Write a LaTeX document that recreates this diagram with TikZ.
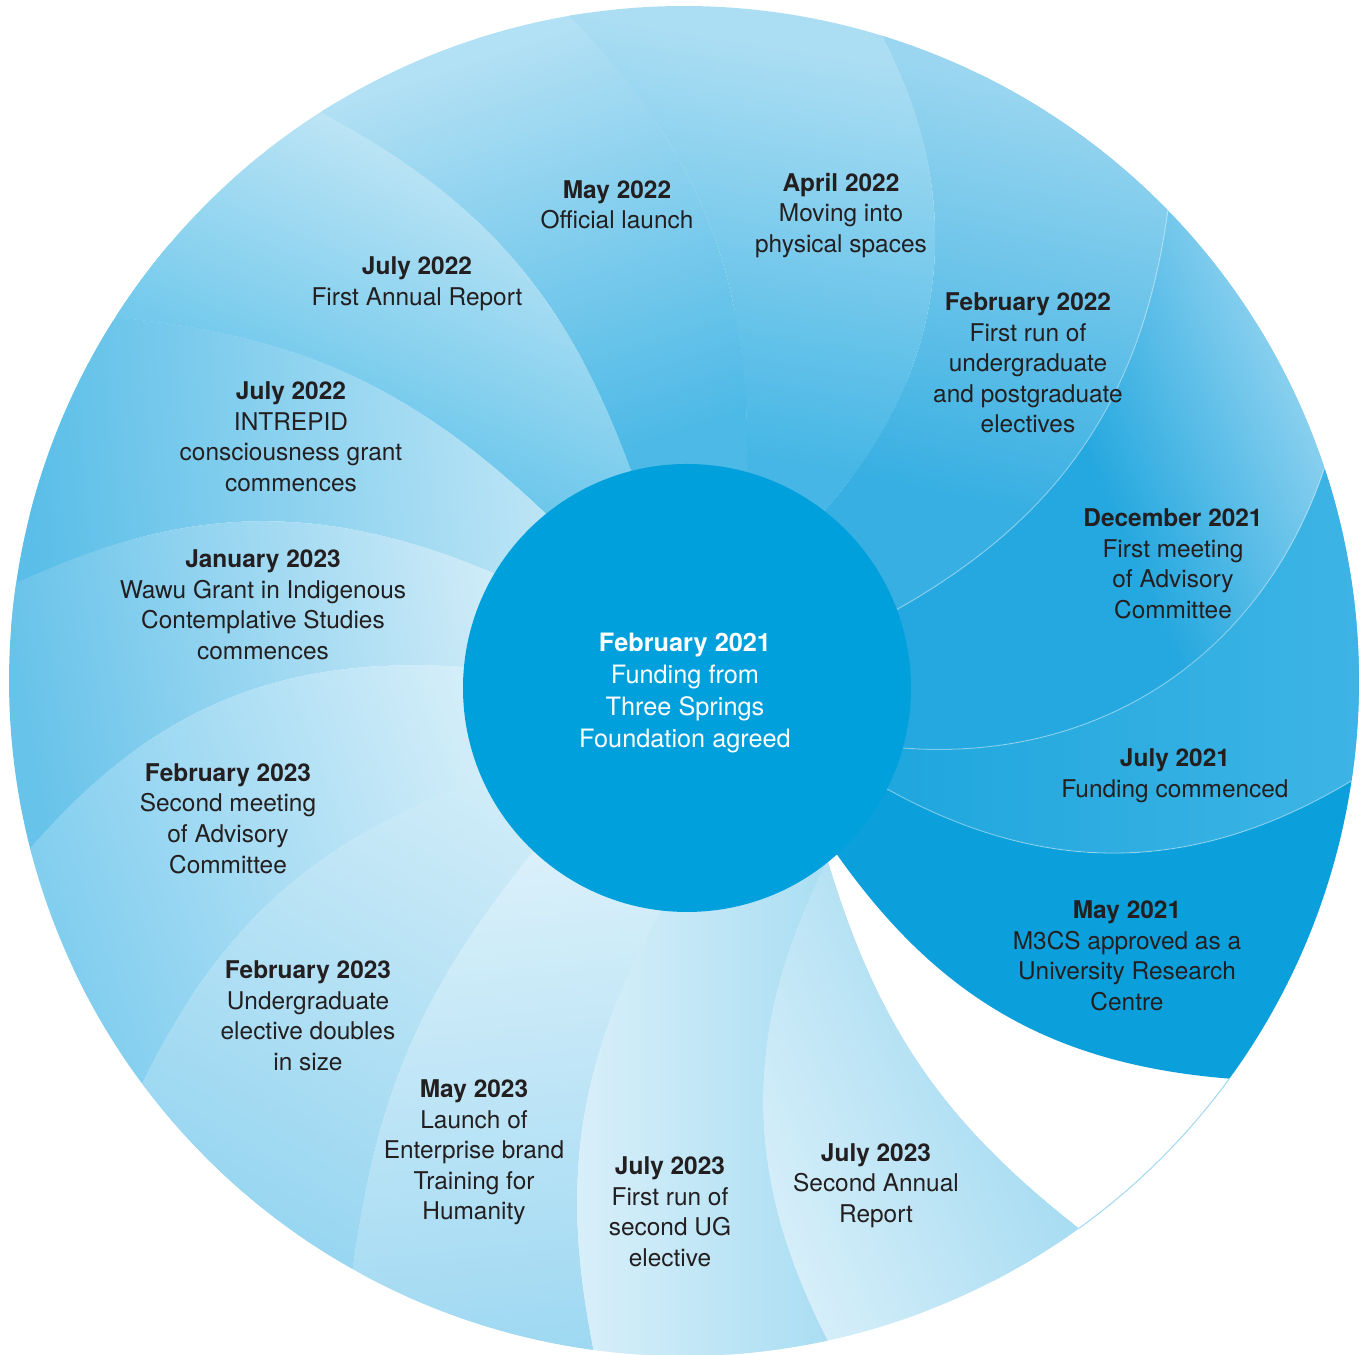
\documentclass[tikz,border=0pt]{standalone}
\usepackage{fontspec}
\setmainfont{TeX Gyre Heros}

\definecolor{core}{HTML}{00A0DC}
\definecolor{ink}{HTML}{231F20}
\definecolor{rimline}{HTML}{A3DAF2}
\definecolor{may21}{HTML}{0BA0DB}
\definecolor{jul21d}{HTML}{20A7DE}\definecolor{jul21l}{HTML}{3EB4E5}
\definecolor{dec21d}{HTML}{25A8DF}\definecolor{dec21l}{HTML}{8AD0EF}
\definecolor{feb22d}{HTML}{37AFE2}\definecolor{feb22l}{HTML}{9AD6F0}
\definecolor{apr22d}{HTML}{45B6E5}\definecolor{apr22l}{HTML}{ACDEF3}
\definecolor{may22d}{HTML}{4DB9E6}\definecolor{may22l}{HTML}{B2E0F4}
\definecolor{rep22d}{HTML}{6CC7EB}\definecolor{rep22l}{HTML}{BCE4F5}
\definecolor{int22d}{HTML}{5ABEE8}\definecolor{int22l}{HTML}{BDE5F6}
\definecolor{jan23d}{HTML}{68C3EA}\definecolor{jan23l}{HTML}{D1ECF8}
\definecolor{adv23d}{HTML}{82CEEF}\definecolor{adv23l}{HTML}{D5EEF9}
\definecolor{ug23d}{HTML}{98D6F1}\definecolor{ug23l}{HTML}{D0ECF8}
\definecolor{may23d}{HTML}{9ED8F2}\definecolor{may23l}{HTML}{DAF0FA}
\definecolor{ele23d}{HTML}{AADEF3}\definecolor{ele23l}{HTML}{D8EFF9}
\definecolor{rep23d}{HTML}{A7DCF2}\definecolor{rep23l}{HTML}{D5EEF9}

% blade: path, dark colour, light colour, dark point, direction of light, length
\newcommand\bladefill[6]{%
  \begin{scope}
    \clip #1;
    \begin{scope}[transform canvas={shift={#4}, rotate=#5-90}]
      \fill[#2] (-14,-20) rectangle (14,1);
      \fill[#3] (-14,{#6-1}) rectangle (14,20);
      \shade[bottom color=#2, top color=#3] (-14,0) rectangle (14,#6);
    \end{scope}
  \end{scope}}

\tikzset{
  seam/.style={white, opacity=.35, line width=.3pt},
  evt/.style={align=center, text=ink, inner sep=0pt, font=\fontsize{6.95}{8.7}\selectfont},
  hub/.style={circle, fill=core, minimum size=4.48cm, inner sep=0pt},
  hubtext/.style={align=center, text=white, inner sep=0pt, font=\fontsize{7.2}{9.1}\selectfont}
}

\begin{document}
\begin{tikzpicture}
  \useasboundingbox (-6.84,-6.74) rectangle (6.83,6.81);
  \coordinate (o) at (0.03,-0.07);
  \coordinate (p0) at (1.54,-1.75);
  \coordinate (p1) at (2.03,-1.08);
  \coordinate (p2) at (2.18,-0.67);
  \coordinate (p3) at (2.12,0.71);
  \coordinate (p4) at (1.40,1.70);
  \coordinate (p5) at (0.63,2.09);
  \coordinate (p6) at (-0.53,2.10);
  \coordinate (p7) at (-1.39,1.68);
  \coordinate (p8) at (-1.91,1.08);
  \coordinate (p9) at (-2.21,0.14);
  \coordinate (p10) at (-2.02,-0.99);
  \coordinate (p11) at (-1.51,-1.71);
  \coordinate (p12) at (-0.24,-2.31);
  \coordinate (p13) at (1.42,-1.83);
  \coordinate (p14) at (1.44,-1.81);
  \coordinate (q0) at (-36.1:6.75);
  \coordinate (q1) at (-8.5:6.75);
  \coordinate (q2) at (18.4:6.75);
  \coordinate (q3) at (44.2:6.75);
  \coordinate (q4) at (73.0:6.75);
  \coordinate (q5) at (99.8:6.75);
  \coordinate (q6) at (122.6:6.75);
  \coordinate (q7) at (147.4:6.75);
  \coordinate (q8) at (171.7:6.75);
  \coordinate (q9) at (194.4:6.75);
  \coordinate (q10) at (216.6:6.75);
  \coordinate (q11) at (240.6:6.75);
  \coordinate (q12) at (262.3:6.75);
  \coordinate (q13) at (282.3:6.75);
  \coordinate (q14) at (305.8:6.75);

  \fill[may21] (p0) to[bend right=25] (q0) arc[start angle=-36.1, end angle=-8.5, radius=6.75] to[bend left=30] (p1) -- (o) -- cycle;
  \bladefill{(p1) to[bend right=30] (q1) arc[start angle=-8.5, end angle=18.4, radius=6.75] to[bend left=38] (p2) -- (o) -- cycle}{jul21d}{jul21l}{(2.2,-1.1)}{0}{4.6}
  \bladefill{(p2) to[bend right=38] (q2) arc[start angle=18.4, end angle=44.2, radius=6.75] to[bend left=26.4] (p3) -- (o) -- cycle}{dec21d}{dec21l}{(4.5,1.2)}{24}{2.2}
  \bladefill{(p3) to[bend right=26.4] (q3) arc[start angle=44.2, end angle=73.0, radius=6.75] to[bend left=35] (p4) -- (o) -- cycle}{feb22d}{feb22l}{(2.78,1.81)}{78}{4.2}
  \bladefill{(p4) to[bend right=35] (q4) arc[start angle=73.0, end angle=99.8, radius=6.75] to[bend left=22.6] (p5) -- (o) -- cycle}{apr22d}{apr22l}{(1.0,2.17)}{81}{4.15}
  \bladefill{(p5) to[bend right=22.6] (q5) arc[start angle=99.8, end angle=122.6, radius=6.75] to[bend left=21] (p6) -- (o) -- cycle}{may22d}{may22l}{(-0.04,2.48)}{108}{4.2}
  \bladefill{(p6) to[bend right=21] (q6) arc[start angle=122.6, end angle=147.4, radius=6.75] to[bend left=19] (p7) -- (o) -- cycle}{rep22d}{rep22l}{(-1.39,1.68)}{67}{2.8}
  \bladefill{(p7) to[bend right=19] (q7) arc[start angle=147.4, end angle=171.7, radius=6.75] to[bend left=24] (p8) -- (o) -- cycle}{int22d}{int22l}{(-6.6,2.3)}{5}{5.2}
  \bladefill{(p8) to[bend right=24] (q8) arc[start angle=171.7, end angle=194.4, radius=6.75] to[bend left=26.7] (p9) -- (o) -- cycle}{jan23d}{jan23l}{(-6.7,0.4)}{10}{4.9}
  \bladefill{(p9) to[bend right=26.7] (q9) arc[start angle=194.4, end angle=216.6, radius=6.75] to[bend left=22] (p10) -- (o) -- cycle}{adv23d}{adv23l}{(-6.54,-1.68)}{20}{4.7}
  \bladefill{(p10) to[bend right=22] (q10) arc[start angle=216.6, end angle=240.6, radius=6.75] to[bend left=15.6] (p11) -- (o) -- cycle}{ug23d}{ug23l}{(-3.31,-5.88)}{60}{4.9}
  \bladefill{(p11) to[bend right=15.6] (q11) arc[start angle=240.6, end angle=262.3, radius=6.75] to[bend left=20] (p12) -- (o) -- cycle}{may23d}{may23l}{(-0.90,-6.69)}{96}{5.0}
  \bladefill{(p12) to[bend right=20] (q12) arc[start angle=262.3, end angle=282.3, radius=6.75] to[bend left=27] (p13) -- (o) -- cycle}{ele23d}{ele23l}{(1.44,-4.0)}{180}{2.51}
  \bladefill{(p13) to[bend right=27] (q13) arc[start angle=282.3, end angle=305.8, radius=6.75] to[bend left=17.5] (p14) -- (o) -- cycle}{rep23d}{rep23l}{(3.95,-5.47)}{203}{2.75}

  \draw[seam] (p1) to[bend right=30] (q1);
  \draw[seam] (p2) to[bend right=38] (q2);
  \draw[seam] (p3) to[bend right=26.4] (q3);
  \draw[rimline, line width=.3pt] (q14) arc[start angle=305.8, end angle=323.9, radius=6.75];

  \node[hub] (feb21) at (o) {};
  \node[hubtext] (feb21txt) at (0.01,-0.12) {\textbf{February 2021}\\Funding from\\Three Springs\\Foundation agreed};

  \node[evt] (may21) at (4.43,-2.75) {\textbf{May 2021}\\M3CS approved as a\\University Research\\Centre};
  \node[evt] (jul21) at (4.91,-0.95) {\textbf{July 2021}\\Funding commenced};
  \node[evt] (dec21) at (4.89,1.17) {\textbf{December 2021}\\First meeting\\of Advisory\\Committee};
  \node[evt] (feb22) at (3.44,3.18) {\textbf{February 2022}\\First run of\\undergraduate\\and postgraduate\\electives};
  \node[evt] (apr22) at (1.57,4.655) {\textbf{April 2022}\\Moving into\\physical spaces};
  \node[evt] (may22) at (-0.67,4.76) {\textbf{May 2022}\\Official launch};
  \node[evt] (jul22a) at (-2.67,3.97) {\textbf{July 2022}\\First Annual Report};
  \node[evt] (jul22b) at (-3.93,2.44) {\textbf{July 2022}\\INTREPID\\consciousness grant\\commences};
  \node[evt] (jan23) at (-4.21,0.76) {\textbf{January 2023}\\Wawu Grant in Indigenous\\Contemplative Studies\\commences};
  \node[evt] (feb23a) at (-4.56,-1.375) {\textbf{February 2023}\\Second meeting\\of Advisory\\Committee};
  \node[evt] (feb23b) at (-3.76,-3.35) {\textbf{February 2023}\\Undergraduate\\elective doubles\\in size};
  \node[evt] (may23) at (-2.10,-4.715) {\textbf{May 2023}\\Launch of\\Enterprise brand\\Training for\\Humanity};
  \node[evt] (jul23a) at (-0.14,-5.31) {\textbf{July 2023}\\First run of\\second UG\\elective};
  \node[evt] (jul23b) at (1.92,-5.045) {\textbf{July 2023}\\Second Annual\\Report};
\end{tikzpicture}
\end{document}
